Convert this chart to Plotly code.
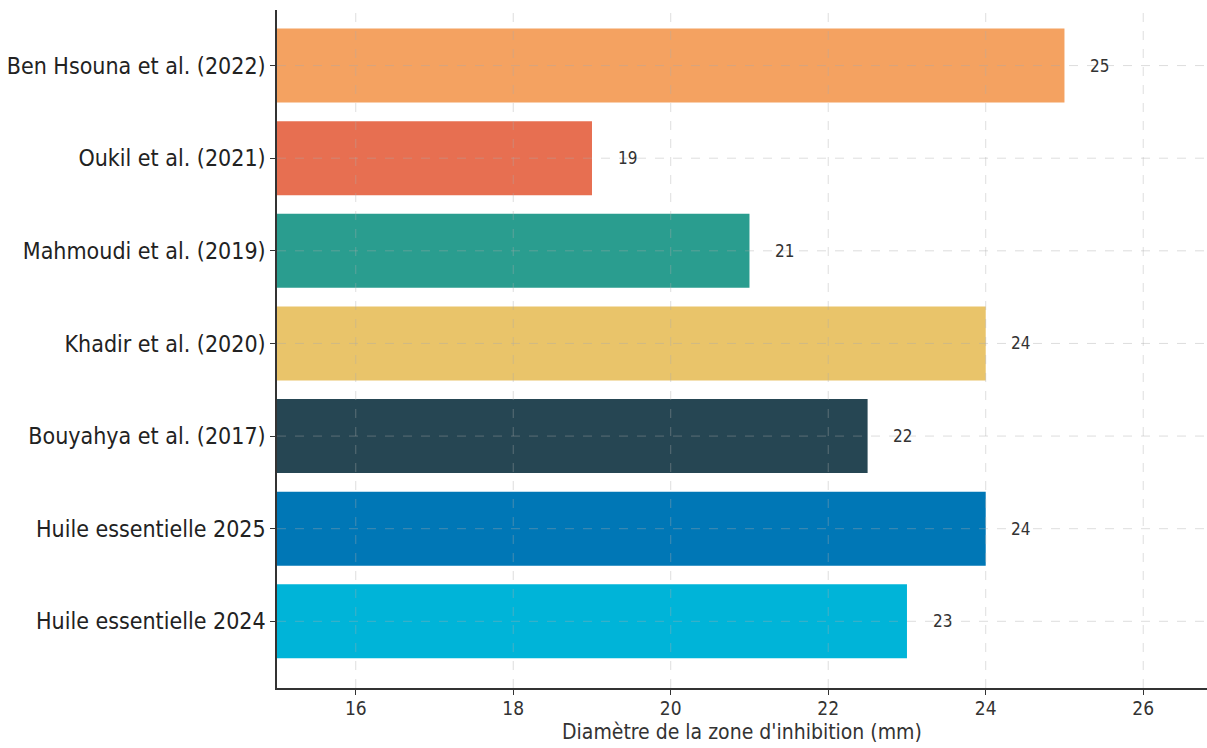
import plotly.graph_objects as go

studies = [
    "Ben Hsouna et al. (2022)",
    "Oukil et al. (2021)",
    "Mahmoudi et al. (2019)",
    "Khadir et al. (2020)",
    "Bouyahya et al. (2017)",
    "Huile essentielle 2025",
    "Huile essentielle 2024",
]
diameters = [25, 19, 21, 24, 22.5, 24, 23]
colors = ["#F4A261", "#E76F51", "#2A9D8F", "#E9C46A", "#264653", "#0077B6", "#00B4D8"]
x_ticks = [16, 18, 20, 22, 24, 26]
x_title = "Diamètre de la zone d'inhibition (mm)"
label_offset = 0.3

FONT = "DejaVu Sans Condensed, DejaVu Sans"

fig = go.Figure()
fig.add_trace(go.Bar(
    x=diameters,
    y=studies,
    orientation="h",
    marker=dict(color=colors, line=dict(width=0)),
    width=0.8,
    hoverinfo="x+y",
    showlegend=False,
))

annotations = []
for s, d in zip(studies, diameters):
    annotations.append(dict(
        x=d + label_offset, y=s, xref="x", yref="y",
        text=str(int(d)), showarrow=False, xanchor="left", yanchor="middle",
        font=dict(family=FONT, size=17, color="#333333"),
    ))
# x-axis title as a paper annotation below tick labels
annotations.append(dict(
    x=0.5, y=0, xref="paper", yref="paper", text=x_title, showarrow=False,
    xanchor="center", yanchor="top", yshift=-31, borderpad=0,
    font=dict(family=FONT, size=21, color="#333333"),
))

grid_style = dict(color="rgba(170,170,170,0.4)", width=1, dash="dash")
shapes = []
for t in x_ticks:
    shapes.append(dict(type="line", xref="x", yref="paper", x0=t, x1=t, y0=0, y1=1,
                       line=grid_style, layer="above"))
for s in studies:
    shapes.append(dict(type="line", xref="paper", yref="y", x0=0, x1=1, y0=s, y1=s,
                       line=grid_style, layer="above"))

fig.update_layout(
    width=1207, height=748,
    margin=dict(l=277, r=0, t=10, b=60),
    paper_bgcolor="white", plot_bgcolor="white",
    font=dict(family=FONT, color="#222222"),
    bargap=0.2,
    annotations=annotations,
    shapes=shapes,
    xaxis=dict(
        range=[15, 26.81],
        tickvals=x_ticks,
        ticktext=[str(t) for t in x_ticks],
        showgrid=False, zeroline=False,
        showline=True, linecolor="#333333", linewidth=1.5,
        ticks="outside", ticklen=5, tickcolor="#333333",
        ticklabelstandoff=-3,
        tickfont=dict(family=FONT, size=19, color="#333333"),
    ),
    yaxis=dict(
        categoryorder="array",
        categoryarray=studies[::-1],
        range=[-0.72, 6.6],
        showgrid=False, zeroline=False,
        showline=True, linecolor="#333333", linewidth=1.5,
        ticks="outside", ticklen=5, tickcolor="#333333",
        tickfont=dict(family=FONT, size=23, color="#222222"),
    ),
)

fig.write_html("out.html")
